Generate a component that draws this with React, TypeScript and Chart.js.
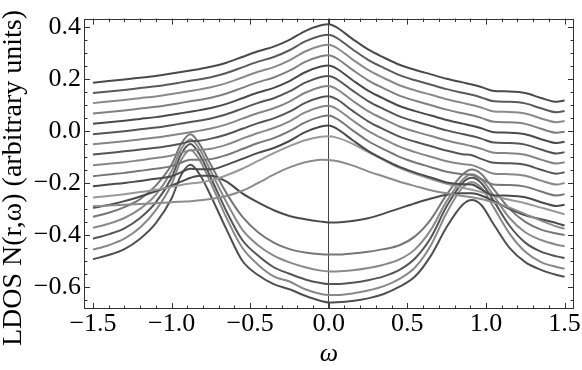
import React, { useEffect, useRef } from 'react';
import { Chart, registerables } from 'chart.js';

Chart.register(...registerables);

// energy grid (omega)
const OMEGA = [-1.5, -1.4, -1.3, -1.2, -1.1, -1.0, -0.94, -0.88, -0.82, -0.75, -0.65, -0.55, -0.45, -0.35, -0.25, -0.15, -0.05, 0.0, 0.05, 0.15, 0.25, 0.35, 0.45, 0.55, 0.65, 0.75, 0.85, 0.91, 0.97, 1.05, 1.15, 1.25, 1.35, 1.45, 1.5];

const C01 = [0.187, 0.193, 0.199, 0.206, 0.213, 0.222, 0.228, 0.234, 0.240, 0.248, 0.264, 0.286, 0.308, 0.326, 0.352, 0.386, 0.408, 0.412, 0.400, 0.356, 0.315, 0.284, 0.256, 0.236, 0.219, 0.202, 0.188, 0.180, 0.170, 0.155, 0.153, 0.147, 0.128, 0.113, 0.118];
const C02 = [0.147, 0.153, 0.159, 0.166, 0.173, 0.182, 0.188, 0.194, 0.200, 0.208, 0.224, 0.246, 0.268, 0.286, 0.312, 0.346, 0.368, 0.372, 0.360, 0.316, 0.275, 0.244, 0.216, 0.196, 0.179, 0.162, 0.148, 0.140, 0.130, 0.115, 0.113, 0.107, 0.088, 0.073, 0.078];
const C03 = [0.108, 0.114, 0.120, 0.127, 0.134, 0.143, 0.149, 0.155, 0.161, 0.169, 0.185, 0.207, 0.229, 0.247, 0.273, 0.307, 0.329, 0.333, 0.321, 0.277, 0.236, 0.205, 0.177, 0.157, 0.140, 0.123, 0.109, 0.101, 0.091, 0.076, 0.074, 0.068, 0.049, 0.034, 0.039];
const C04 = [0.068, 0.074, 0.080, 0.087, 0.094, 0.103, 0.109, 0.115, 0.121, 0.129, 0.145, 0.167, 0.189, 0.207, 0.233, 0.267, 0.289, 0.293, 0.281, 0.237, 0.196, 0.165, 0.137, 0.117, 0.100, 0.083, 0.069, 0.061, 0.051, 0.036, 0.034, 0.028, 0.009, -0.006, -0.002];
const C05 = [0.028, 0.034, 0.040, 0.047, 0.054, 0.063, 0.069, 0.075, 0.081, 0.089, 0.105, 0.127, 0.149, 0.167, 0.193, 0.227, 0.249, 0.253, 0.241, 0.197, 0.156, 0.125, 0.097, 0.077, 0.060, 0.043, 0.029, 0.021, 0.011, -0.004, -0.006, -0.012, -0.031, -0.046, -0.041];
const C06 = [-0.012, -0.006, 0.000, 0.007, 0.014, 0.023, 0.029, 0.035, 0.041, 0.049, 0.065, 0.087, 0.109, 0.127, 0.153, 0.187, 0.209, 0.213, 0.201, 0.157, 0.116, 0.085, 0.057, 0.037, 0.020, 0.003, -0.011, -0.019, -0.029, -0.044, -0.046, -0.052, -0.071, -0.086, -0.081];
const C07 = [-0.051, -0.045, -0.039, -0.032, -0.025, -0.016, -0.010, -0.004, 0.002, 0.010, 0.026, 0.048, 0.070, 0.088, 0.114, 0.148, 0.170, 0.174, 0.162, 0.118, 0.077, 0.046, 0.018, -0.002, -0.019, -0.036, -0.050, -0.058, -0.068, -0.083, -0.085, -0.091, -0.110, -0.125, -0.120];
const C08 = [-0.090, -0.084, -0.078, -0.071, -0.064, -0.055, -0.049, -0.039, -0.037, -0.029, -0.013, 0.009, 0.031, 0.049, 0.075, 0.109, 0.131, 0.135, 0.123, 0.079, 0.038, 0.007, -0.021, -0.041, -0.058, -0.075, -0.089, -0.093, -0.107, -0.122, -0.124, -0.130, -0.149, -0.164, -0.159];
const C09 = [-0.132, -0.126, -0.120, -0.112, -0.104, -0.094, -0.083, -0.074, -0.072, -0.068, -0.052, -0.029, -0.007, 0.012, 0.038, 0.072, 0.094, 0.098, 0.086, 0.042, 0.001, -0.031, -0.060, -0.081, -0.099, -0.116, -0.127, -0.131, -0.145, -0.164, -0.166, -0.172, -0.191, -0.206, -0.200];
const C10 = [-0.174, -0.167, -0.161, -0.153, -0.145, -0.135, -0.122, -0.110, -0.110, -0.108, -0.092, -0.069, -0.046, -0.027, 0.000, 0.034, 0.056, 0.060, 0.048, 0.004, -0.038, -0.070, -0.099, -0.121, -0.139, -0.157, -0.166, -0.169, -0.185, -0.206, -0.208, -0.214, -0.233, -0.248, -0.243];
const C11 = [-0.213, -0.206, -0.200, -0.192, -0.184, -0.174, -0.159, -0.145, -0.147, -0.147, -0.130, -0.107, -0.084, -0.065, -0.038, -0.004, 0.018, 0.022, 0.010, -0.034, -0.076, -0.109, -0.138, -0.160, -0.179, -0.198, -0.205, -0.206, -0.225, -0.247, -0.249, -0.255, -0.274, -0.289, -0.284];
const C12 = [-0.256, -0.250, -0.243, -0.235, -0.226, -0.215, -0.208, -0.202, -0.198, -0.190, -0.170, -0.145, -0.115, -0.085, -0.058, -0.035, -0.022, -0.020, -0.025, -0.048, -0.080, -0.112, -0.142, -0.165, -0.185, -0.203, -0.218, -0.226, -0.235, -0.250, -0.265, -0.278, -0.295, -0.312, -0.321];
const C13 = [-0.290, -0.287, -0.284, -0.281, -0.278, -0.274, -0.272, -0.270, -0.267, -0.262, -0.250, -0.230, -0.200, -0.168, -0.140, -0.120, -0.110, -0.111, -0.115, -0.132, -0.155, -0.175, -0.195, -0.212, -0.228, -0.240, -0.250, -0.255, -0.262, -0.275, -0.295, -0.320, -0.345, -0.368, -0.376];
const C14 = [-0.296, -0.285, -0.270, -0.252, -0.232, -0.210, -0.195, -0.180, -0.172, -0.172, -0.195, -0.240, -0.275, -0.305, -0.327, -0.340, -0.349, -0.352, -0.352, -0.347, -0.336, -0.318, -0.298, -0.278, -0.260, -0.245, -0.240, -0.240, -0.248, -0.270, -0.300, -0.325, -0.340, -0.355, -0.364];
const C15 = [-0.330, -0.315, -0.293, -0.262, -0.210, -0.130, -0.050, -0.012, -0.052, -0.130, -0.240, -0.330, -0.390, -0.430, -0.455, -0.468, -0.475, -0.476, -0.476, -0.472, -0.465, -0.455, -0.440, -0.405, -0.340, -0.245, -0.168, -0.148, -0.165, -0.225, -0.300, -0.350, -0.380, -0.395, -0.401];
const C16 = [-0.373, -0.357, -0.335, -0.300, -0.245, -0.155, -0.070, -0.031, -0.072, -0.155, -0.275, -0.380, -0.440, -0.480, -0.506, -0.525, -0.538, -0.541, -0.541, -0.537, -0.528, -0.515, -0.495, -0.455, -0.380, -0.270, -0.188, -0.166, -0.185, -0.250, -0.335, -0.390, -0.420, -0.438, -0.444];
const C17 = [-0.415, -0.398, -0.375, -0.335, -0.275, -0.180, -0.090, -0.050, -0.092, -0.180, -0.310, -0.420, -0.480, -0.525, -0.550, -0.572, -0.586, -0.590, -0.590, -0.585, -0.575, -0.560, -0.535, -0.490, -0.410, -0.290, -0.200, -0.180, -0.200, -0.270, -0.365, -0.430, -0.465, -0.483, -0.490];
const C18 = [-0.457, -0.440, -0.415, -0.372, -0.305, -0.205, -0.113, -0.073, -0.113, -0.200, -0.335, -0.450, -0.515, -0.560, -0.580, -0.610, -0.628, -0.632, -0.632, -0.626, -0.615, -0.598, -0.570, -0.525, -0.440, -0.315, -0.218, -0.197, -0.218, -0.295, -0.395, -0.465, -0.505, -0.524, -0.531];
const C19 = [-0.494, -0.478, -0.455, -0.415, -0.355, -0.260, -0.170, -0.130, -0.168, -0.250, -0.380, -0.500, -0.555, -0.590, -0.610, -0.635, -0.655, -0.661, -0.660, -0.655, -0.645, -0.628, -0.600, -0.560, -0.480, -0.370, -0.285, -0.266, -0.285, -0.360, -0.450, -0.505, -0.535, -0.555, -0.562];

const SERIES = [C01, C02, C03, C04, C05, C06, C07, C08, C09, C10, C11, C12, C13, C14, C15, C16, C17, C18, C19];
const COLORS = ['#4a4a4a', '#5a5a5a', '#8a8a8a', '#808080', '#4a4a4a', '#555555', '#858585', '#555555', '#888888', '#777777', '#4a4a4a', '#999999', '#8c8c8c', '#4a4a4a', '#777777', '#8a8a8a', '#555555', '#888888', '#505050'];

const X_MAJOR = [-1.5, -1.0, -0.5, 0.0, 0.5, 1.0, 1.5];
const X_MINOR = [-1.5, -1.4, -1.3, -1.2, -1.1, -1.0, -0.9, -0.8, -0.7, -0.6, -0.5, -0.4, -0.3, -0.2, -0.1, 0.0, 0.1, 0.2, 0.3, 0.4, 0.5, 0.6, 0.7, 0.8, 0.9, 1.0, 1.1, 1.2, 1.3, 1.4, 1.5];
const Y_MAJOR = [-0.6, -0.4, -0.2, 0.0, 0.2, 0.4];
const Y_MINOR = [-0.65, -0.6, -0.55, -0.5, -0.45, -0.4, -0.35, -0.3, -0.25, -0.2, -0.15, -0.1, -0.05, 0.0, 0.05, 0.1, 0.15, 0.2, 0.25, 0.3, 0.35, 0.4];

const X_TITLE = 'ω';
const Y_TITLE = 'LDOS N(r,ω) (arbitrary units)';

const SERIF = "'Liberation Serif', 'DejaVu Serif', serif";

const fmt = (v: number) => (v < -1e-9 ? '\u2212' : '') + Math.abs(v).toFixed(1);
const isIn = (arr: number[], v: number) => arr.some((a) => Math.abs(a - v) < 1e-6);

const framePlugin = {
  id: 'mmaFrame',
  afterDatasetsDraw(chart: any) {
    const { ctx, chartArea, scales } = chart;
    const { left, right, top, bottom } = chartArea;
    const xs = scales.x;
    const ys = scales.y;
    ctx.save();
    ctx.strokeStyle = '#333333';
    ctx.lineWidth = 1;
    ctx.beginPath();
    for (const v of X_MINOR) {
      const px = Math.round(xs.getPixelForValue(v)) + 0.5;
      const len = isIn(X_MAJOR, v) ? 6 : 3.5;
      ctx.moveTo(px, bottom);
      ctx.lineTo(px, bottom - len);
      ctx.moveTo(px, top);
      ctx.lineTo(px, top + len);
    }
    for (const v of Y_MINOR) {
      const py = Math.round(ys.getPixelForValue(v)) + 0.5;
      const len = isIn(Y_MAJOR, v) ? 6 : 3.5;
      ctx.moveTo(left, py);
      ctx.lineTo(left + len, py);
      ctx.moveTo(right, py);
      ctx.lineTo(right - len, py);
    }
    ctx.stroke();
    ctx.strokeRect(Math.round(left) + 0.5, Math.round(top) + 0.5, Math.round(right - left) - 1, Math.round(bottom - top) - 1);
    ctx.restore();
  },
};

export default function App() {
  const ref = useRef<HTMLCanvasElement | null>(null);
  useEffect(() => {
    if (!ref.current) return;
    const datasets = SERIES.map((s, i) => ({
      label: 'r' + (i + 1),
      data: OMEGA.map((w, j) => ({ x: w, y: s[j] })),
      borderColor: COLORS[i],
      borderWidth: 2,
      pointRadius: 0,
      fill: false,
      cubicInterpolationMode: 'monotone' as const,
    }));
    const chart = new Chart(ref.current, {
      type: 'line',
      data: { datasets },
      plugins: [framePlugin],
      options: {
        animation: false,
        responsive: false,
        maintainAspectRatio: false,
        layout: { padding: { top: 6, right: 8, bottom: 20, left: 0 } },
        plugins: {
          legend: { display: false },
          tooltip: { enabled: false },
          title: {
            display: true,
            position: 'left',
            text: Y_TITLE,
            color: '#000',
            font: { family: SERIF, size: 28, weight: 'normal', lineHeight: 1 },
            padding: 0,
            fullSize: true,
          },
        },
        scales: {
          x: {
            type: 'linear',
            min: -1.557,
            max: 1.56,
            afterBuildTicks: (scale: any) => {
              scale.ticks = X_MAJOR.map((v) => ({ value: v }));
            },
            afterFit: (scale: any) => {
              scale.height = 41;
            },
            ticks: {
              color: '#000',
              font: { family: SERIF, size: 26 },
              padding: 0,
              maxRotation: 0,
              autoSkip: false,
              callback: (v: any) => fmt(Number(v)),
            },
            grid: {
              drawTicks: false,
              color: (c: any) => (c.tick && Math.abs(c.tick.value) < 1e-9 ? '#444444' : 'rgba(0,0,0,0)'),
              lineWidth: 1,
            },
            border: { display: false },
            title: {
              display: true,
              text: X_TITLE,
              color: '#000',
              font: { family: SERIF, size: 26, style: 'italic', lineHeight: 1 },
              padding: { top: 0, bottom: -17 },
            },
          },
          y: {
            type: 'linear',
            min: -0.686,
            max: 0.434,
            afterBuildTicks: (scale: any) => {
              scale.ticks = Y_MAJOR.map((v) => ({ value: v }));
            },
            afterFit: (scale: any) => {
              scale.width = 56;
            },
            ticks: {
              color: '#000',
              font: { family: SERIF, size: 26 },
              padding: 3,
              autoSkip: false,
              callback: (v: any) => fmt(Number(v)),
            },
            grid: { display: false, drawTicks: false },
            border: { display: false },
          },
        },
      } as any,
    });
    return () => chart.destroy();
  }, []);
  return (
    <div style={{ position: 'absolute', left: 0, top: 0, width: 582, height: 370, background: '#fff' }}>
      <canvas ref={ref} width={582} height={370} style={{ display: 'block' }} />
    </div>
  );
}
